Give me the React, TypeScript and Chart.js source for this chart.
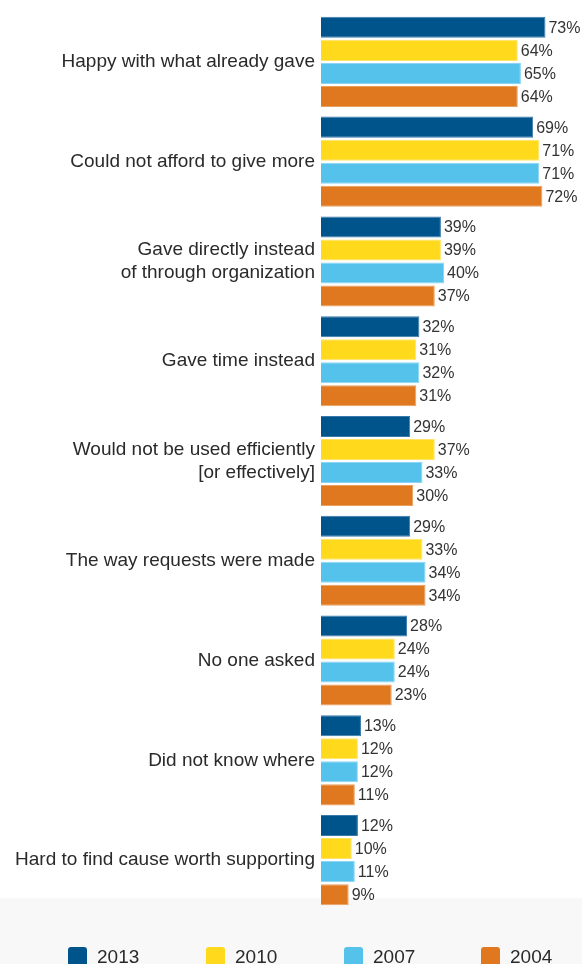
import React, { useEffect, useRef } from "react";
import { Chart, registerables } from "chart.js";

Chart.register(...registerables);

const categories: (string | string[])[] = [
  "Happy with what already gave",
  "Could not afford to give more",
  ["Gave directly instead", "of through organization"],
  "Gave time instead",
  ["Would not be used efficiently", "[or effectively]"],
  "The way requests were made",
  "No one asked",
  "Did not know where",
  "Hard to find cause worth supporting",
];

const years = ["2013", "2010", "2007", "2004"];

const values2013 = [73, 69, 39, 32, 29, 29, 28, 13, 12];
const values2010 = [64, 71, 39, 31, 37, 33, 24, 12, 10];
const values2007 = [65, 71, 40, 32, 33, 34, 24, 12, 11];
const values2004 = [64, 72, 37, 31, 30, 34, 23, 11, 9];

const seriesValues = [values2013, values2010, values2007, values2004];
const colors = ["#00548c", "#fed91c", "#55c2ec", "#df781f"];
const borderColors = ["#3a7aab", "#fee467", "#8dd6f2", "#e9a05f"];

const FONT = '"Liberation Sans", Arial, Helvetica, sans-serif';

const bgPlugin = {
  id: "bgBand",
  beforeDraw(chart: any) {
    const { ctx, width, height } = chart;
    ctx.save();
    ctx.fillStyle = "#ffffff";
    ctx.fillRect(0, 0, width, height);
    ctx.fillStyle = "#f8f8f8";
    ctx.fillRect(0, 898, width, height - 898);
    ctx.restore();
  },
};

const valueLabelPlugin = {
  id: "valueLabels",
  afterDatasetsDraw(chart: any) {
    const { ctx } = chart;
    ctx.save();
    ctx.font = `16px ${FONT}`;
    ctx.fillStyle = "#333333";
    ctx.textAlign = "left";
    ctx.textBaseline = "middle";
    chart.data.datasets.forEach((ds: any, i: number) => {
      const meta = chart.getDatasetMeta(i);
      meta.data.forEach((el: any, j: number) => {
        ctx.fillText(`${ds.data[j]}%`, el.x + 3, el.y + 1);
      });
    });
    ctx.restore();
  },
};

export default function App() {
  const canvasRef = useRef<HTMLCanvasElement | null>(null);

  useEffect(() => {
    if (!canvasRef.current) return;
    const chart = new Chart(canvasRef.current, {
      type: "bar",
      data: {
        labels: categories,
        datasets: years.map((y, i) => ({
          label: y,
          data: seriesValues[i],
          backgroundColor: colors[i],
          borderColor: borderColors[i],
          borderWidth: 1,
          categoryPercentage: 0.923,
          barPercentage: 0.913,
        })),
      },
      options: {
        indexAxis: "y",
        responsive: false,
        animation: false,
        devicePixelRatio: 1,
        layout: { padding: { left: 0, top: 12, bottom: 54, right: 15 } },
        plugins: {
          legend: { display: false },
          tooltip: { enabled: false },
        },
        scales: {
          x: { display: false, min: 0, max: 80 },
          y: {
            grid: { display: false, drawTicks: false },
            border: { display: false },
            ticks: {
              color: "#2a2a2a",
              padding: 6,
              font: { family: FONT, size: 19, lineHeight: 1.2 },
            },
            afterFit(scale: any) {
              scale.width = 321;
              scale.paddingTop = 0;
              scale.paddingBottom = 0;
            },
          },
        },
      },
      plugins: [bgPlugin, valueLabelPlugin],
    } as any);
    return () => chart.destroy();
  }, []);

  const legendX = [68, 206, 344, 481];

  return (
    <div
      style={{
        position: "absolute",
        left: 0,
        top: 0,
        width: 582,
        height: 964,
        overflow: "hidden",
        background: "#ffffff",
      }}
    >
      <canvas ref={canvasRef} width={582} height={964} style={{ display: "block" }} />
      {years.map((y, i) => (
        <div
          key={y}
          style={{
            position: "absolute",
            left: legendX[i],
            top: 947,
            display: "flex",
            alignItems: "flex-start",
            fontFamily: FONT,
            fontSize: 19,
            color: "#2a2a2a",
            lineHeight: "20px",
          }}
        >
          <span
            style={{
              display: "inline-block",
              width: 19,
              height: 20,
              borderRadius: 3,
              background: colors[i],
              marginRight: 10,
            }}
          />
          <span>{y}</span>
        </div>
      ))}
    </div>
  );
}
